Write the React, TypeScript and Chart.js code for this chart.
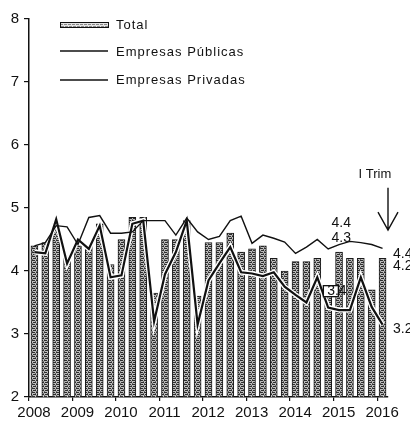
import React, { useEffect, useRef } from 'react';
import { Chart, registerables } from 'chart.js';

Chart.register(...registerables);

// ---- data (quarterly, 2008 Q1 .. 2016 Q1) ----
const years = ['2008', '2009', '2010', '2011', '2012', '2013', '2014', '2015', '2016'];
const total = [4.4, 4.45, 4.75, 4.2, 4.4, 4.4, 4.75, 4.1, 4.5, 4.85, 4.85, 3.65, 4.5, 4.5, 4.8, 3.6, 4.45, 4.45, 4.6, 4.3, 4.35, 4.4, 4.2, 4.0, 4.15, 4.15, 4.2, 3.75, 4.3, 4.2, 4.2, 3.7, 4.2];
const publicas = [4.4, 4.45, 4.72, 4.7, 4.42, 4.85, 4.88, 4.6, 4.6, 4.62, 4.8, 4.8, 4.8, 4.57, 4.84, 4.62, 4.5, 4.55, 4.8, 4.87, 4.44, 4.57, 4.52, 4.46, 4.28, 4.38, 4.5, 4.35, 4.42, 4.47, 4.45, 4.42, 4.36];
const privadas = [4.3, 4.28, 4.82, 4.12, 4.5, 4.35, 4.72, 3.9, 3.93, 4.75, 4.8, 3.2, 3.95, 4.3, 4.8, 3.15, 3.85, 4.12, 4.38, 3.98, 3.96, 3.92, 3.98, 3.75, 3.62, 3.5, 3.9, 3.42, 3.38, 3.38, 3.9, 3.43, 3.15];
const legendLabels = ['Total', 'Empresas Públicas', 'Empresas Privadas'];
const endLabels = ['4.4', '4.2', '3.2'];
const innerLabels = [
  { text: '4.4', x: 28.7, y: 4.76 },
  { text: '4.3', x: 28.7, y: 4.52 },
];
const boxedLabel = { text: '3.4', x: 28.3, y: 3.68 };
const trimLabel = { text: 'I Trim', x: 31.8, y: 5.54 };
const arrow = { x: 33.0, from: 5.32, to: 4.65 };

const FONT = '"Liberation Sans", Arial, sans-serif';

function makePattern(light: boolean): CanvasPattern | string {
  const c = document.createElement('canvas');
  c.width = 4;
  c.height = 4;
  const g = c.getContext('2d');
  if (!g) return '#999';
  g.fillStyle = light ? '#e4e4e4' : '#bdbdbd';
  g.fillRect(0, 0, 4, 4);
  g.fillStyle = light ? '#8a8a8a' : '#2e2e2e';
  g.fillRect(0, 0, 3, 1);
  g.fillRect(1, 2, 3, 1);
  if (!light) {
    g.fillStyle = '#6a6a6a';
    g.fillRect(3, 1, 1, 1);
    g.fillRect(0, 3, 1, 1);
  }
  const p = g.createPattern(c, 'repeat');
  return p || '#999';
}

const overlayPlugin = {
  id: 'overlay',
  afterDatasetsDraw(chart: any) {
    const { ctx, chartArea } = chart;
    const xs = chart.scales.x;
    const ys = chart.scales.y;
    ctx.save();
    ctx.fillStyle = '#111';
    ctx.strokeStyle = '#111';
    ctx.textBaseline = 'middle';
    ctx.textAlign = 'left';
    ctx.font = `13px ${FONT}`;
    (ctx as any).letterSpacing = '1px';

    // legend
    const lx = 60, lw = 48, tx = 116;
    ctx.fillStyle = makePattern(true) as any;
    ctx.fillRect(lx, 22, lw, 6);
    ctx.lineWidth = 1;
    ctx.strokeRect(lx + 0.5, 22.5, lw, 5);
    ctx.fillStyle = '#111';
    ctx.fillText(legendLabels[0], tx, 25.5);
    ctx.lineWidth = 1.3;
    ctx.beginPath(); ctx.moveTo(lx, 51); ctx.lineTo(lx + lw, 51); ctx.stroke();
    ctx.fillText(legendLabels[1], tx, 52);
    ctx.beginPath(); ctx.moveTo(lx, 80); ctx.lineTo(lx + lw, 80); ctx.stroke();
    ctx.fillText(legendLabels[2], tx, 80);

    // end labels
    (ctx as any).letterSpacing = '0px';
    ctx.font = `14px ${FONT}`;
    endLabels.forEach((t) => {
      ctx.fillText(t, chartArea.right + 5, ys.getPixelForValue(parseFloat(t)) + 8);
    });
    // inner labels
    ctx.textAlign = 'center';
    innerLabels.forEach((l) => {
      ctx.fillText(l.text, xs.getPixelForValue(l.x), ys.getPixelForValue(l.y));
    });
    // boxed label
    const bx = xs.getPixelForValue(boxedLabel.x);
    const by = ys.getPixelForValue(boxedLabel.y);
    ctx.fillStyle = '#fff';
    ctx.fillRect(bx - 13, by - 6, 15, 12);
    ctx.strokeRect(bx - 13.5, by - 5.5, 15, 11);
    ctx.fillStyle = '#111';
    ctx.fillText(boxedLabel.text, bx, by);
    // I Trim
    ctx.font = `13px ${FONT}`;
    ctx.fillText(trimLabel.text, xs.getPixelForValue(trimLabel.x), ys.getPixelForValue(trimLabel.y));
    // arrow
    const ax = xs.getPixelForValue(arrow.x);
    const ay1 = ys.getPixelForValue(arrow.from);
    const ay2 = ys.getPixelForValue(arrow.to);
    ctx.lineWidth = 1.4;
    ctx.beginPath();
    ctx.moveTo(ax, ay1); ctx.lineTo(ax, ay2);
    ctx.moveTo(ax - 10, ay2 - 18); ctx.lineTo(ax, ay2); ctx.lineTo(ax + 10, ay2 - 18);
    ctx.stroke();
    ctx.restore();
  },
};

export default function App() {
  const ref = useRef<HTMLCanvasElement | null>(null);
  useEffect(() => {
    if (!ref.current) return;
    const pts = (arr: number[]) => arr.map((v, i) => ({ x: i + 0.5, y: v }));
    const chart = new Chart(ref.current, {
      type: 'bar',
      data: {
        datasets: [
          {
            type: 'bar',
            label: legendLabels[0],
            data: pts(total),
            backgroundColor: makePattern(false) as any,
            borderColor: '#1a1a1a',
            borderWidth: 1,
            barThickness: 7,
            order: 4,
          } as any,
          {
            type: 'line',
            label: 'halo',
            data: pts(privadas),
            borderColor: '#ffffff',
            borderWidth: 5,
            pointRadius: 0,
            tension: 0,
            order: 3,
          },
          {
            type: 'line',
            label: legendLabels[2],
            data: pts(privadas),
            borderColor: '#111',
            borderWidth: 2.2,
            pointRadius: 0,
            tension: 0,
            order: 2,
          },
          {
            type: 'line',
            label: legendLabels[1],
            data: pts(publicas),
            borderColor: '#111',
            borderWidth: 1.4,
            pointRadius: 0,
            tension: 0,
            order: 1,
          },
        ],
      },
      options: {
        animation: false,
        responsive: true,
        maintainAspectRatio: false,
        layout: { padding: { top: 19, right: 22, bottom: 0, left: 0 } },
        plugins: { legend: { display: false }, tooltip: { enabled: false } },
        scales: {
          x: {
            type: 'linear',
            min: 0,
            max: 33,
            offset: false,
            afterFit: (s: any) => { s.height = 28; },
            grid: { display: true, offset: false, drawOnChartArea: false, drawTicks: true, tickLength: 4, color: '#111', lineWidth: 1.2 },
            border: { display: true, color: '#111', width: 1.5 },
            ticks: {
              stepSize: 4,
              includeBounds: false,
              autoSkip: false,
              maxRotation: 0,
              labelOffset: 5,
              padding: 3,
              color: '#111',
              font: { family: FONT, size: 15 },
              callback: (v: any) => (Number(v) % 4 === 0 ? years[Number(v) / 4] ?? '' : ''),
            },
          },
          y: {
            type: 'linear',
            min: 2,
            max: 8,
            afterFit: (s: any) => { s.width = 29; },
            grid: { display: true, drawOnChartArea: false, drawTicks: true, tickLength: 5, color: '#111', lineWidth: 1.2 },
            border: { display: true, color: '#111', width: 1.5 },
            ticks: {
              stepSize: 1,
              padding: 5,
              color: '#111',
              font: { family: FONT, size: 15 },
            },
          },
        },
      },
      plugins: [overlayPlugin],
    } as any);
    return () => chart.destroy();
  }, []);
  return (
    <div style={{ position: 'fixed', left: 0, top: 0, width: 410, height: 425, background: '#fff' }}>
      <canvas ref={ref} />
    </div>
  );
}
